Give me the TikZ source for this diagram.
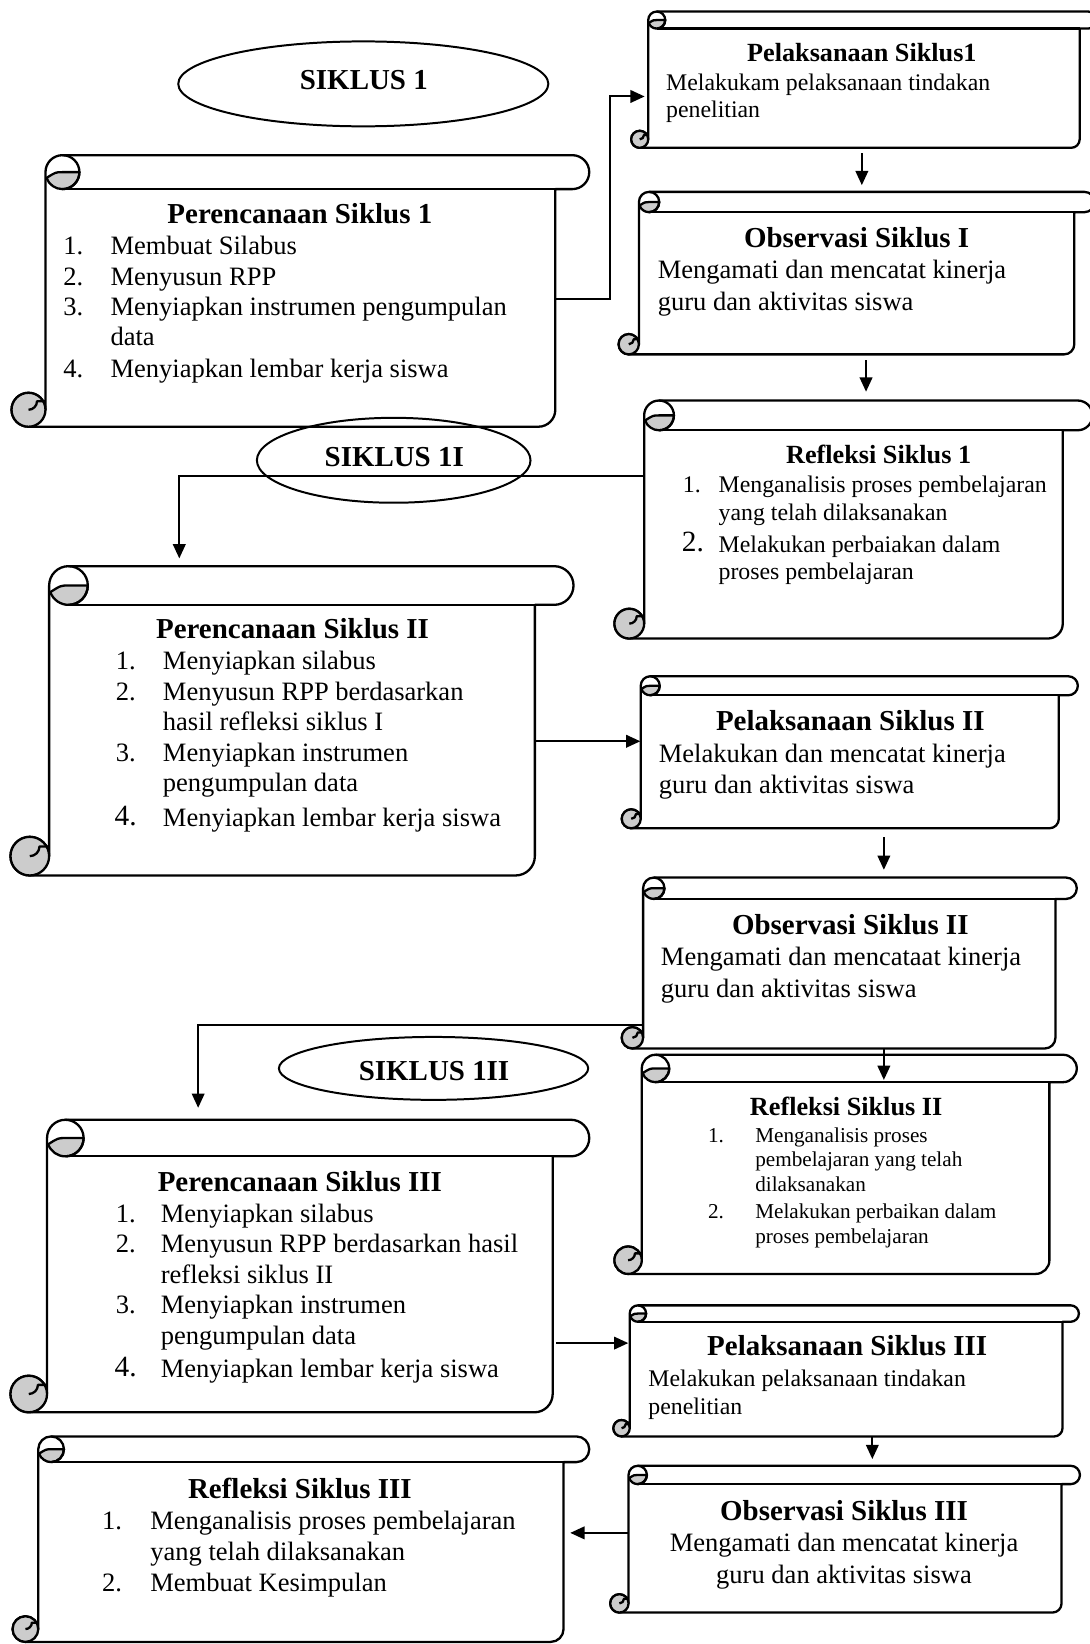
\documentclass[tikz,border=0pt]{standalone}
\usepackage{fontspec}
\setmainfont{Liberation Serif}
\usetikzlibrary{arrows.meta,fit,shapes.geometric}
\definecolor{curlgray}{RGB}{204,204,204}
\tikzset{
  scrollline/.style={line width=1.1pt, line join=round},
  conn/.style={line width=0.95pt},
  arr/.style={conn, -{Triangle[length=6.8pt,width=6pt]}},
  ell/.style={draw, ellipse, line width=0.95pt, inner sep=0},
  ttlL/.style={font=\fontsize{13.8}{16}\selectfont\bfseries, inner sep=0, anchor=mid, yshift=-2.2pt},
  ttlS/.style={font=\fontsize{12.5}{15}\selectfont\bfseries, inner sep=0, anchor=mid, yshift=-2.2pt},
  txL/.style={font=\fontsize{12.65}{14.5}\selectfont, inner sep=0, anchor=mid west, yshift=-2.2pt},
  txS/.style={font=\fontsize{11.36}{13}\selectfont, inner sep=0, anchor=mid west, yshift=-2.2pt},
  txX/.style={font=\fontsize{10.1}{12}\selectfont, inner sep=0, anchor=mid west, yshift=-2.2pt},
  txC/.style={font=\fontsize{12.65}{14.5}\selectfont, inner sep=0, anchor=mid, yshift=-2.2pt},
  numB/.style={font=\fontsize{14}{16}\selectfont, inner sep=0, anchor=mid west, yshift=-2.2pt},
}
\newcounter{txln}
\newcommand{\txtline}[4]{\stepcounter{txln}\node[#3] (tx\arabic{txln}) at (#1,#2) {#4};}
\newcommand{\scrollbox}[5]{%
 \pgfmathsetmacro\scL{#1}%
 \pgfmathsetmacro\scT{#2}%
 \pgfmathsetmacro\scR{#3}%
 \pgfmathsetmacro\scB{#4}%
 \pgfmathsetmacro\scC{min(#3-#1,#4-#2)/8}%
 \pgfmathsetmacro\scH{\scC/2}%
 \pgfmathsetmacro\scQ{\scH/2}%
 \pgfmathsetmacro\scBL{\scL+\scC}%
 \pgfmathsetmacro\scBR{\scR-\scC}%
 \pgfmathsetmacro\scCx{\scBL+\scH}%
 \pgfmathsetmacro\scCy{\scT+\scH}%
 \pgfmathsetmacro\scDx{\scL+\scH}%
 \pgfmathsetmacro\scDy{\scB-\scH}%
 \pgfmathsetmacro\scRoll{\scT+\scC}%
 \pgfmathsetmacro\scEx{\scR-\scH}%
 \draw[scrollline, fill=white] (\scBL,\scDy) -- (\scBL,\scCy)
   arc[start angle=180,end angle=270,radius=\scH] -- (\scEx,\scT)
   arc[start angle=270,end angle=450,radius=\scH] -- (\scBR,\scRoll)
   -- (\scBR,\scDy) arc[start angle=0,end angle=90,radius=\scH]
   -- (\scDx,\scB) arc[start angle=90,end angle=360,radius=\scH] -- cycle;
 \draw[scrollline] (\scBR,\scRoll) -- (\scCx,\scRoll);
 \draw[scrollline, fill=curlgray] ({\scCx+\scH},\scCy) arc[start angle=0,end angle=160,radius=\scH]
   .. controls ({\scCx-0.4*\scH},\scCy) .. (\scCx,\scCy) -- cycle;
 \draw[scrollline] (\scCx,\scT) arc[start angle=270,end angle=450,radius=\scH];
 \draw[scrollline, fill=curlgray] (\scDx,\scDy) circle[radius=\scH];
 \draw[scrollline] (\scDx,\scDy) arc[start angle=90,end angle=0,radius=\scQ] -- (\scBL,{\scDy-\scQ});
 \node[fit={(\scBL,\scT) (\scBR,\scB)}, inner sep=0] (#5) {};
}
\begin{document}
\begin{tikzpicture}[x=0.5pt,y=-0.5pt]
\fill[white] (0,0) rectangle (1039,1568);
\useasboundingbox (0,0) rectangle (1039,1568);

% ---------- scrolls ----------
\scrollbox{11}{148}{562}{407}{A}
\scrollbox{602}{11}{1046}{141}{B}
\scrollbox{590}{183}{1044}{338}{C}
\scrollbox{586}{382}{1042}{609}{D}
\scrollbox{10}{540}{547}{835}{E}
\scrollbox{593}{645}{1028}{790}{F}
\scrollbox{593}{837}{1027}{1000}{G}
\scrollbox{586}{1006}{1027}{1215}{I}
\scrollbox{10}{1068}{562}{1347}{H}
\scrollbox{585}{1245}{1029}{1370}{J}
\scrollbox{582}{1398}{1030}{1538}{K}
\scrollbox{12}{1370}{562}{1566}{L}

% ---------- ellipses ----------
\node[ell, minimum width=176.5pt, minimum height=40.5pt] (s1) at (346.5,80) {};
\node[ell, minimum width=130.5pt, minimum height=40.5pt] (s2) at (375.5,439) {};
\node[ell, minimum width=147.5pt, minimum height=30pt] (s3) at (413.5,1019) {};
\node[ttlL] (s1t) at (347,76) {SIKLUS 1};
\node[ttlL] (s2t) at (376,436) {SIKLUS 1I};
\node[ttlL] (s3t) at (414,1022) {SIKLUS 1II};

% ---------- box A ----------
\txtline{286}{204}{ttlL}{Perencanaan Siklus 1}
\txtline{60}{234}{txL}{1.}\txtline{105}{234}{txL}{Membuat Silabus}
\txtline{60}{263}{txL}{2.}\txtline{105}{263}{txL}{Menyusun RPP}
\txtline{60}{292}{txL}{3.}\txtline{105}{292}{txL}{Menyiapkan instrumen pengumpulan}
\txtline{105}{321}{txL}{data}
\txtline{60}{351}{txL}{4.}\txtline{105}{351}{txL}{Menyiapkan lembar kerja siswa}

% ---------- box B ----------
\txtline{822}{50}{ttlS}{Pelaksanaan Siklus1}
\txtline{635}{77}{txS}{Melakukam pelaksanaan tindakan}
\txtline{635}{103}{txS}{penelitian}

% ---------- box C ----------
\txtline{817}{227}{ttlL}{Observasi Siklus I}
\txtline{627}{257}{txL}{Mengamati dan mencatat kinerja}
\txtline{627}{287}{txL}{guru dan aktivitas siswa}

% ---------- box D ----------
\txtline{838}{433}{ttlS}{Refleksi Siklus 1}
\txtline{651}{461}{txS}{1.}\txtline{685}{461}{txS}{Menganalisis proses pembelajaran}
\txtline{685}{487}{txS}{yang telah dilaksanakan}
\txtline{650}{517}{numB}{2.}\txtline{685}{518}{txS}{Melakukan perbaiakan dalam}
\txtline{685}{544}{txS}{proses pembelajaran}

% ---------- box E ----------
\txtline{279}{600}{ttlL}{Perencanaan Siklus II}
\txtline{110}{630}{txL}{1.}\txtline{155}{630}{txL}{Menyiapkan silabus}
\txtline{110}{659}{txL}{2.}\txtline{155}{659}{txL}{Menyusun RPP berdasarkan}
\txtline{155}{688}{txL}{hasil refleksi siklus I}
\txtline{110}{717}{txL}{3.}\txtline{155}{717}{txL}{Menyiapkan instrumen}
\txtline{155}{746}{txL}{pengumpulan data}
\txtline{109}{778}{numB}{4.}\txtline{155}{779}{txL}{Menyiapkan lembar kerja siswa}

% ---------- box F ----------
\txtline{811}{688}{ttlL}{Pelaksanaan Siklus II}
\txtline{628}{718}{txL}{Melakukan dan mencatat kinerja}
\txtline{628}{748}{txL}{guru dan aktivitas siswa}

% ---------- box G ----------
\txtline{811}{882}{ttlL}{Observasi Siklus II}
\txtline{630}{912}{txL}{Mengamati dan mencataat kinerja}
\txtline{630}{942}{txL}{guru dan aktivitas siswa}

% ---------- box I ----------
\txtline{807}{1055}{ttlS}{Refleksi Siklus II}
\txtline{675}{1081}{txX}{1.}\txtline{720}{1081}{txX}{Menganalisis proses}
\txtline{720}{1104}{txX}{pembelajaran yang telah}
\txtline{720}{1127}{txX}{dilaksanakan}
\txtline{675}{1153}{txX}{2.}\txtline{720}{1153}{txX}{Melakukan perbaikan dalam}
\txtline{720}{1177}{txX}{proses pembelajaran}

% ---------- box H ----------
\txtline{286}{1127}{ttlL}{Perencanaan Siklus III}
\txtline{110}{1157}{txL}{1.}\txtline{153}{1157}{txL}{Menyiapkan silabus}
\txtline{110}{1186}{txL}{2.}\txtline{153}{1186}{txL}{Menyusun RPP berdasarkan hasil}
\txtline{153}{1215}{txL}{refleksi siklus II}
\txtline{110}{1244}{txL}{3.}\txtline{153}{1244}{txL}{Menyiapkan instrumen}
\txtline{153}{1273}{txL}{pengumpulan data}
\txtline{109}{1304}{numB}{4.}\txtline{153}{1305}{txL}{Menyiapkan lembar kerja siswa}

% ---------- box J ----------
\txtline{808}{1284}{ttlL}{Pelaksanaan Siklus III}
\txtline{618}{1313}{txS}{Melakukan pelaksanaan tindakan}
\txtline{618}{1340}{txS}{penelitian}

% ---------- box K ----------
\txtline{805}{1441}{ttlL}{Observasi Siklus III}
\txtline{805}{1471}{txC}{Mengamati dan mencatat kinerja}
\txtline{805}{1501}{txC}{guru dan aktivitas siswa}

% ---------- box L ----------
\txtline{286}{1420}{ttlL}{Refleksi Siklus III}
\txtline{97}{1450}{txL}{1.}\txtline{143}{1450}{txL}{Menganalisis proses pembelajaran}
\txtline{143}{1479}{txL}{yang telah dilaksanakan}
\txtline{97}{1509}{txL}{2.}\txtline{143}{1509}{txL}{Membuat Kesimpulan}

% ---------- connectors ----------
\coordinate (k1) at (582,285);
\coordinate (k2) at (582,92);
\draw[arr, shorten >=1.5pt] (A.east |- k1) -- (k1) -- (k2) -- (B.west |- k2);
\coordinate (k3) at (822,0);
\draw[arr, shorten <=2.5pt, shorten >=3pt] (B.south -| k3) -- (C.north -| k3);
\coordinate (k4) at (826,0);
\draw[arr, shorten <=2.5pt, shorten >=4pt] (C.south -| k4) -- (D.north -| k4);
\coordinate (k5) at (171,454);
\draw[arr, shorten >=3.5pt] (D.west |- k5) -- (k5) -- (k5 |- E.north);
\coordinate (k6) at (0,707);
\draw[arr] (E.east |- k6) -- (F.west |- k6);
\coordinate (k7) at (843,0);
\draw[arr, shorten <=4pt, shorten >=3.5pt] (F.south -| k7) -- (G.north -| k7);
\coordinate (k8) at (189,978);
\draw[arr, shorten >=5.5pt] (G.west |- k8) -- (k8) -- (k8 |- H.north);
\coordinate (k9) at (843,1030);
\draw[arr] (G.south -| k7) -- (k9);
\coordinate (k10) at (0,1281);
\draw[arr, shorten <=1.5pt, shorten >=0.5pt] (H.east |- k10) -- (J.west |- k10);
\coordinate (k11) at (832,0);
\draw[arr, shorten >=3pt] (J.south -| k11) -- (K.north -| k11);
\coordinate (k12) at (0,1462);
\draw[arr, shorten >=3pt] (K.west |- k12) -- (L.east |- k12);
\end{tikzpicture}
\end{document}
